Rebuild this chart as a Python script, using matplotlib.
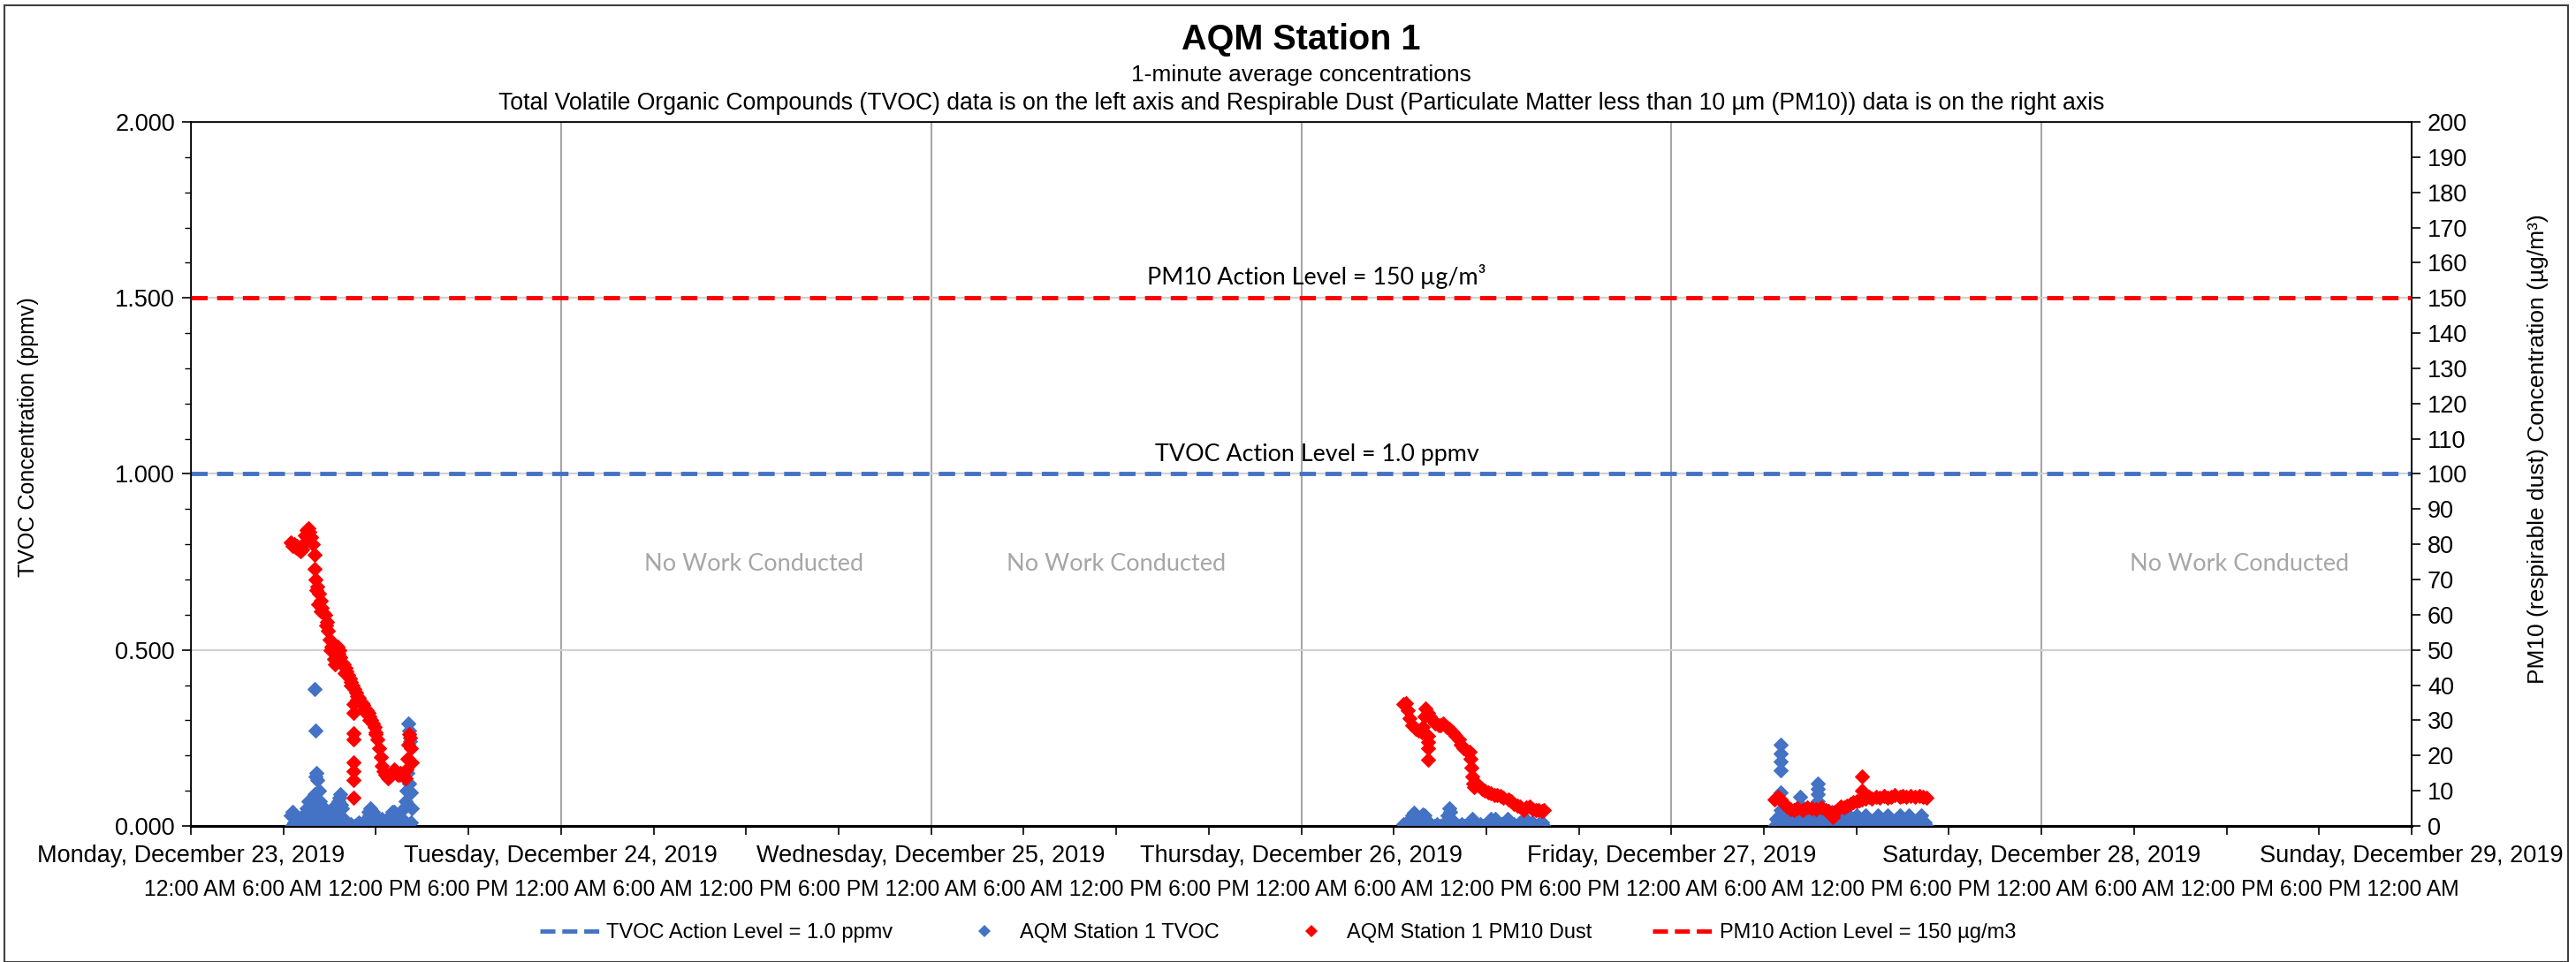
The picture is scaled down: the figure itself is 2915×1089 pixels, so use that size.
import pandas as pd
import matplotlib
matplotlib.use("Agg")
import matplotlib.pyplot as plt
import matplotlib.dates as mdates
from matplotlib.ticker import MultipleLocator, FormatStrFormatter
from matplotlib.lines import Line2D
from matplotlib.patches import Rectangle

plt.rcParams['font.family'] = ['Liberation Sans', 'DejaVu Sans']

BLUE = '#4472C4'
RED = '#FF0000'

# 1-minute data, hours after midnight of each day
tvoc_dec23_h = [6.5, 6.55, 6.6, 6.7, 6.75, 6.8, 6.9, 6.95, 7.0, 7.1, 7.15, 7.2, 7.3, 7.35, 7.4,
                7.5, 7.55, 7.6, 7.7, 7.75, 7.8, 7.9, 7.95, 8.0, 8.05, 8.06, 8.1, 8.15, 8.2, 8.25,
                8.3, 8.4, 8.45, 8.5, 8.6, 8.65, 8.7, 8.8, 8.85, 8.9, 9.0, 9.05, 9.1, 9.2, 9.25,
                9.3, 9.4, 9.45, 9.5, 9.6, 9.65, 9.7, 9.8, 9.85, 9.9, 10.0, 10.2, 10.4, 10.6, 10.8,
                10.9, 11.0, 11.2, 11.4, 11.5, 11.6, 11.7, 11.8, 11.9, 12.0, 12.1, 12.2, 12.3, 12.4,
                12.5, 12.6, 12.7, 12.8, 12.9, 13.0, 13.1, 13.2, 13.3, 13.4, 13.5, 13.6, 13.7, 13.75,
                13.8, 13.9, 13.95, 14.0, 14.05, 14.1, 14.12, 14.15, 14.2, 14.25, 14.28, 14.3,
                7.45, 7.65, 7.85, 8.35, 8.55, 8.75, 9.15, 9.35, 9.55, 9.75, 11.45, 11.65, 11.85,
                13.05, 13.25, 14.02, 14.18]
tvoc_dec23 = [0.03, 0.0, 0.04, 0.01, 0.0, 0.02, 0.0, 0.01, 0.02, 0.005, 0.0, 0.01, 0.03, 0.0, 0.01,
              0.05, 0.0, 0.07, 0.04, 0.01, 0.06, 0.02, 0.0, 0.09, 0.39, 0.27, 0.14, 0.15, 0.13, 0.0,
              0.1, 0.06, 0.01, 0.03, 0.05, 0.0, 0.02, 0.01, 0.0, 0.03, 0.01, 0.0, 0.04, 0.02, 0.0,
              0.005, 0.02, 0.0, 0.06, 0.08, 0.01, 0.09, 0.05, 0.0, 0.02, 0.005, 0.0, 0.005, 0.0, 0.005,
              0.01, 0.0, 0.005, 0.02, 0.04, 0.03, 0.02, 0.04, 0.01, 0.02, 0.0, 0.01, 0.005, 0.02,
              0.0, 0.01, 0.02, 0.005, 0.0, 0.02, 0.03, 0.04, 0.01, 0.0, 0.005, 0.01, 0.02, 0.0,
              0.05, 0.07, 0.01, 0.1, 0.15, 0.29, 0.0, 0.27, 0.24, 0.095, 0.01, 0.05,
              0.03, 0.05, 0.04, 0.07, 0.04, 0.03, 0.05, 0.03, 0.07, 0.06, 0.02, 0.05, 0.03,
              0.04, 0.02, 0.06, 0.12]

pm10_dec23_h = [6.5, 6.6, 6.7, 6.8, 6.9, 7.0, 7.1, 7.2, 7.3, 7.4, 7.5, 7.6, 7.7, 7.8, 7.9, 8.0,
                8.05, 8.1, 8.2, 8.3, 8.4, 8.5, 8.6, 8.7, 8.8, 8.9, 9.0, 9.1, 9.2, 9.3, 9.4, 9.5,
                9.6, 9.7, 9.8, 9.9, 10.0, 10.1, 10.2, 10.3, 10.4, 10.5, 10.6, 10.7, 10.8, 10.9,
                11.0, 11.1, 11.2, 11.3, 11.4, 11.5, 11.6, 11.7, 11.8, 11.9, 12.0, 12.1, 12.2, 12.3,
                12.4, 12.5, 12.6, 12.7, 12.8, 12.9, 13.0, 13.1, 13.2, 13.3, 13.4, 13.5, 13.6, 13.7,
                13.8, 13.9, 14.0, 14.05, 14.1, 14.15, 14.2, 14.25, 14.3,
                10.55, 10.55, 10.55, 10.55, 10.55, 10.55, 10.55, 10.55,
                8.15, 8.25, 8.45, 8.75, 9.05, 9.35, 9.55, 9.95, 10.35, 10.75, 11.15, 11.55, 11.95]
pm10_dec23 = [80.5, 79.5, 80, 79, 79.5, 78.5, 78, 78.5, 80, 82.5, 84, 84.5, 83.5, 82, 80, 77,
              73, 70, 68, 66, 64, 62, 60.5, 60, 58, 55.5, 53, 51, 49.5, 47.5, 48.5, 51,
              50, 48, 46.5, 46, 45, 44, 43, 42, 41, 40, 39, 38, 37, 36.5,
              35.5, 35, 34.5, 33.5, 33, 32, 31, 30, 29, 28, 26.5, 24.5, 22, 19.5,
              17, 15.5, 14.5, 14, 13.5, 14, 15, 15.5, 16, 15.5, 14.5, 14.5, 15, 14.5,
              14, 13.5, 16, 19, 23, 26, 25, 22, 18,
              34.7, 32, 26.3, 24.6, 18, 15.6, 13, 8,
              67, 63, 61, 57, 50, 46, 49, 43.5, 40, 36, 33, 30, 26]

tvoc_dec26_h = [6.6, 6.8, 7.0, 7.1, 7.2, 7.3, 7.4, 7.5, 7.6, 7.8, 7.9, 8.0, 8.1, 8.2, 8.4, 8.6,
                8.8, 9.0, 9.2, 9.4, 9.5, 9.6, 9.65, 9.7, 9.8, 10.0, 10.2, 10.4, 10.6, 10.8, 11.0,
                11.1, 11.2, 11.4, 11.6, 11.8, 12.0, 12.2, 12.3, 12.5, 12.6, 12.8, 13.0, 13.2, 13.4,
                13.6, 13.8, 14.0, 14.2, 14.4, 14.5, 14.6, 14.8, 15.0, 15.2, 15.4, 15.6, 15.7]
tvoc_dec26 = [0.005, 0.0, 0.01, 0.02, 0.03, 0.038, 0.02, 0.005, 0.0, 0.02, 0.033, 0.03, 0.01, 0.0, 0.005, 0.0,
              0.005, 0.0, 0.005, 0.01, 0.03, 0.05, 0.04, 0.02, 0.0, 0.005, 0.0, 0.005, 0.0, 0.005, 0.01,
              0.02, 0.005, 0.0, 0.005, 0.0, 0.005, 0.01, 0.02, 0.005, 0.02, 0.0, 0.005, 0.01, 0.02,
              0.0, 0.005, 0.0, 0.01, 0.005, 0.02, 0.0, 0.005, 0.01, 0.0, 0.005, 0.01, 0.0]

pm10_dec26_h = [6.64, 6.8, 6.9, 7.0, 7.2, 7.4, 7.6, 7.8, 7.9, 8.0, 8.07, 8.2, 8.36, 8.5, 8.7,
                8.9, 9.03, 9.2, 9.4, 9.6, 9.8, 10.0, 10.2, 10.36, 10.5, 10.7, 10.9, 11.0, 11.05,
                11.1, 11.15, 11.2, 11.32, 11.5, 11.7, 11.9, 12.1, 12.27, 12.5, 12.7, 12.9, 13.1,
                13.42, 13.6, 13.8, 14.0, 14.2, 14.4, 14.57, 14.8, 15.0, 15.2, 15.4, 15.6, 15.7,
                8.2, 8.2, 8.2, 8.2]
pm10_dec26 = [34.7, 35, 33, 30.5, 28.5, 27.5, 27, 26.5, 28, 31, 33.5, 32, 31, 30, 29,
              28.5, 28.5, 29, 28, 27.5, 26.5, 25.5, 24.5, 23, 22, 21.5, 21, 19, 16.5,
              14, 12, 11, 11.5, 11.5, 10.5, 10, 9.5, 9.3, 8.8, 8.8, 8.5, 8,
              7.5, 7, 6.3, 5.8, 5.5, 4.6, 5.3, 5.5, 4.8, 4.6, 4.4, 4.2, 4.5,
              25.6, 23.8, 22, 18.8]

tvoc_dec27_h = [6.7, 6.8, 6.9, 7.0, 7.09, 7.09, 7.09, 7.09, 7.09, 7.09, 7.2, 7.4, 7.6, 7.8, 8.0,
                8.2, 8.34, 8.34, 8.5, 8.7, 8.9, 9.1, 9.3, 9.48, 9.48, 9.48, 9.48, 9.6, 9.8, 10.0,
                10.2, 10.4, 10.6, 10.8, 11.0, 11.2, 11.4, 11.6, 11.8, 12.0, 12.2, 12.4, 12.6, 12.8,
                13.0, 13.2, 13.4, 13.6, 13.8, 14.0, 14.2, 14.4, 14.6, 14.8, 15.0, 15.2, 15.4, 15.6,
                15.8, 16.0, 16.2, 16.4, 16.55]
tvoc_dec27 = [0.0, 0.02, 0.01, 0.03, 0.231, 0.206, 0.184, 0.159, 0.095, 0.045, 0.0, 0.03, 0.01, 0.04, 0.0,
              0.02, 0.083, 0.06, 0.01, 0.035, 0.0, 0.02, 0.04, 0.12, 0.105, 0.09, 0.07, 0.01, 0.03, 0.0,
              0.02, 0.04, 0.005, 0.03, 0.0, 0.02, 0.035, 0.0, 0.01, 0.03, 0.005, 0.0, 0.03, 0.01,
              0.0, 0.02, 0.03, 0.005, 0.0, 0.03, 0.01, 0.0, 0.02, 0.03, 0.0, 0.01, 0.03, 0.005,
              0.0, 0.02, 0.03, 0.01, 0.0]

pm10_dec27_h = [6.71, 6.9, 7.1, 7.3, 7.5, 7.7, 7.95, 8.2, 8.5, 8.8, 9.1, 9.4, 9.7, 10.0, 10.2,
                10.44, 10.6, 10.8, 11.0, 11.2, 11.39, 11.6, 11.8, 12.0, 12.2, 12.35, 12.6, 12.8,
                13.0, 13.3, 13.5, 13.8, 14.0, 14.26, 14.5, 14.8, 15.0, 15.21, 15.5, 15.8, 16.1,
                16.3, 16.55, 12.35, 12.35]
pm10_dec27 = [7.5, 8.4, 7.5, 6.3, 5.5, 4.8, 4.6, 5.0, 4.5, 5.2, 5.1, 4.8, 5.3, 4.6, 4.2,
              2.5, 4.0, 4.8, 5.5, 5.2, 5.9, 6.3, 6.8, 7.0, 7.3, 7.5, 7.8, 8.2,
              7.8, 8.4, 8.0, 8.6, 8.0, 8.4, 8.7, 8.2, 8.6, 8.4, 8.5, 8.2, 8.6,
              8.3, 8.0, 14, 10]

days = ['2019-12-23', '2019-12-26', '2019-12-27']
tvoc_sets = [(tvoc_dec23_h, tvoc_dec23), (tvoc_dec26_h, tvoc_dec26), (tvoc_dec27_h, tvoc_dec27)]
pm10_sets = [(pm10_dec23_h, pm10_dec23), (pm10_dec26_h, pm10_dec26), (pm10_dec27_h, pm10_dec27)]

tvoc_action = 1.0
pm10_action = 150

# "No Work Conducted" notes: (hours after Dec 23 00:00, TVOC-axis height)
no_work_h = [36.5, 60.0, 132.8]
no_work_y = 0.745

time_row = ' '.join(['12:00 AM 6:00 AM 12:00 PM 6:00 PM'] * 6 + ['12:00 AM'])


def to_times(day, hours):
    return [pd.Timestamp(day) + pd.Timedelta(hours=h) for h in hours]


fig = plt.figure(figsize=(29.15, 10.89), dpi=100)
ax = fig.add_axes([0.0741, 0.1414, 0.8621, 0.7319])
ax2 = ax.twinx()

start = pd.Timestamp('2019-12-23')
end = pd.Timestamp('2019-12-29')

# TVOC on left axis
ax.axhline(tvoc_action, color=BLUE, lw=3.5, dashes=(3.8, 2.2), zorder=3)
for day, (h, v) in zip(days, tvoc_sets):
    ax.plot(to_times(day, h), v, ls='none', marker='D', ms=8.3, mew=0.8, color=BLUE, zorder=4)

# PM10 on right axis
for day, (h, v) in zip(days, pm10_sets):
    ax2.plot(to_times(day, h), v, ls='none', marker='D', ms=8.3, mew=0.8, color=RED, zorder=4)
ax2.axhline(pm10_action, color=RED, lw=3.5, dashes=(3.8, 2.2), zorder=5)

ax.set_xlim(start, end)
ax.set_ylim(0, 2.0)
ax2.set_ylim(0, 200)

ax.xaxis.set_major_locator(mdates.DayLocator())
ax.xaxis.set_major_formatter(mdates.DateFormatter('%A, %B %d, %Y'))
ax.xaxis.set_minor_locator(mdates.HourLocator(byhour=[6, 12, 18]))
ax.yaxis.set_major_locator(MultipleLocator(0.5))
ax.yaxis.set_minor_locator(MultipleLocator(0.1))
ax.yaxis.set_major_formatter(FormatStrFormatter('%.3f'))
ax2.yaxis.set_major_locator(MultipleLocator(10))

ax.tick_params(axis='x', which='both', direction='out', length=7, width=1.2, pad=8, labelsize=19.5)
ax.tick_params(axis='y', which='major', direction='out', length=7, width=1.2, labelsize=19.5, pad=6)
ax.tick_params(axis='y', which='minor', direction='out', length=5, width=1)
ax2.tick_params(axis='y', direction='out', length=7, width=1.2, labelsize=19.5, pad=6)

ax.grid(axis='x', which='major', color='#A6A6A6', lw=1.5, zorder=0)
ax.grid(axis='y', which='major', color='#D0D0D0', lw=1.5, zorder=0)
ax.set_axisbelow(True)
for sp in ax.spines.values():
    sp.set_color('black')
    sp.set_linewidth(1.2)
ax.spines['bottom'].set_linewidth(2.2)
ax2.spines['right'].set_color('black')
ax2.spines['right'].set_linewidth(1.2)

# notes
for h in no_work_h:
    ax.text(start + pd.Timedelta(hours=h), no_work_y, 'No Work Conducted', family=['Lato', 'DejaVu Sans'],
            fontsize=19.5, color='#A6A6A6', ha='center', va='center')
mid = start + (end - start) / 2 + pd.Timedelta(hours=1)
ax2.text(mid, pm10_action + 2.5, 'PM10 Action Level = 150 µg/m³', family=['Lato', 'DejaVu Sans'],
         fontsize=19.4, ha='center', va='bottom')
ax.text(mid, tvoc_action + 0.025, 'TVOC Action Level = 1.0 ppmv', family=['Lato', 'DejaVu Sans'],
        fontsize=19.4, ha='center', va='bottom')

# titles
cx = 0.0741 + 0.8621 / 2
fig.text(cx, 0.959, 'AQM Station 1', fontsize=28.5, fontweight='bold', ha='center', va='center')
fig.text(cx, 0.922, '1-minute average concentrations', fontsize=19, ha='center', va='center')
fig.text(cx, 0.893, 'Total Volatile Organic Compounds (TVOC) data is on the left axis and Respirable Dust '
         '(Particulate Matter less than 10 µm (PM10)) data is on the right axis',
         fontsize=19.2, ha='center', va='center')

fig.text(0.011, 0.546, 'TVOC Concentration (ppmv)', rotation=90, fontsize=18, ha='center', va='center')
fig.text(0.9853, 0.533, 'PM10 (respirable dust) Concentration (µg/m³)', rotation=90, fontsize=19,
         ha='center', va='center')

fig.text(cx, 0.0755, time_row, fontsize=17.75, ha='center', va='center')

handles = [
    Line2D([], [], color=BLUE, lw=3.5, dashes=(3.5, 1.6)),
    Line2D([], [], ls='none', marker='D', ms=7, mew=0, color=BLUE),
    Line2D([], [], ls='none', marker='D', ms=7, mew=0, color=RED),
    Line2D([], [], color=RED, lw=3.5, dashes=(3.5, 1.6)),
]
labels = ['TVOC Action Level = 1.0 ppmv', 'AQM Station 1 TVOC', 'AQM Station 1 PM10 Dust',
          'PM10 Action Level = 150 µg/m3']
fig.legend(handles, labels, loc='center', bbox_to_anchor=(0.496, 0.0303), ncol=4, frameon=False,
           fontsize=17, handlelength=3.0, handletextpad=0.2, columnspacing=2.9)

fig.add_artist(Rectangle((0.0017, 0.0), 0.9953, 0.9945, transform=fig.transFigure, fill=False,
                         edgecolor='#404040', lw=1.5))

fig.savefig('out.png', dpi=100)
